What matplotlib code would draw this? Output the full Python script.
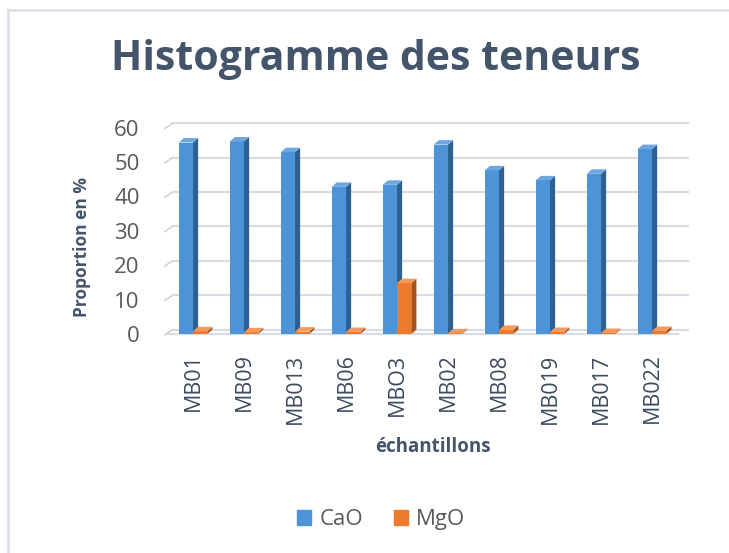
import numpy as np
import matplotlib
matplotlib.use("Agg")
import matplotlib.pyplot as plt
from matplotlib.patches import Polygon, Patch
from matplotlib.lines import Line2D

plt.rcParams['font.family'] = ['Open Sans', 'DejaVu Sans']

# données
echantillons = ['MB01', 'MB09', 'MB013', 'MB06', 'MBO3', 'MB02', 'MB08', 'MB019', 'MB017', 'MB022']
cao = [55.7, 56.0, 52.9, 42.8, 43.4, 55.1, 47.6, 44.7, 46.6, 53.8]
mgo = [0.8, 0.5, 0.7, 0.6, 14.8, 0.2, 1.2, 0.6, 0.3, 0.9]
yticks = [0, 10, 20, 30, 40, 50, 60]

fig = plt.figure(figsize=(7.29, 5.53), dpi=100)
ax = fig.add_axes([0.2298, 0.396, 0.6996, 0.373])

x = np.arange(len(echantillons))
w = 0.28
dx, dy = 0.1, 1.3  # profondeur 3D

# grille (mur du fond) + petites lignes obliques à gauche
for v in yticks:
    ax.plot([-0.5 + dx, 9.5 + 0.2], [v + dy, v + dy], color='#d9dce3', lw=1.6, zorder=0, clip_on=False)
    ax.plot([-0.5 - 0.05, -0.5 + dx], [v - 0.2, v + dy], color='#d0d3da', lw=1.2, zorder=0, clip_on=False)
ax.plot([-0.5, 9.5], [0, 0], color='#d9dce3', lw=1.6, zorder=0, clip_on=False)


def barres_3d(pos, vals, face, cote, dessus):
    ax.bar(pos, vals, w, color=face, zorder=3)
    for xi, v in zip(pos, vals):
        x0, x1 = xi - w / 2, xi + w / 2
        ax.add_patch(Polygon([(x1, 0), (x1 + dx, dy), (x1 + dx, v + dy), (x1, v)],
                             closed=True, fc=cote, ec='none', zorder=3))
        ax.add_patch(Polygon([(x0, v), (x0 + dx, v + dy), (x1 + dx, v + dy), (x1, v)],
                             closed=True, fc=dessus, ec='none', zorder=3))


barres_3d(x - w / 2, cao, '#4d93d8', '#2d5f91', '#6ea6de')
barres_3d(x + w / 2, mgo, '#ee7a2c', '#a9501a', '#f59a5e')

ax.set_xlim(-0.5, 9.5)
ax.set_ylim(0, 60)
ax.set_yticks(yticks)
ax.set_yticklabels([str(v) for v in yticks], fontsize=16, color='#595959')
ax.set_xticks(x)
ax.set_xticklabels(echantillons, rotation=90, fontsize=15.5, color='#3b4a5e')
ax.tick_params(axis='y', length=0, pad=20)
ax.tick_params(axis='x', length=0, pad=14)
for s in ax.spines.values():
    s.set_visible(False)

ax.set_ylabel('Proportion en %', fontsize=12.5, fontweight='bold', color='#44546a')
ax.yaxis.set_label_coords(-0.15, 0.42)
ax.set_xlabel('échantillons', fontsize=13.5, fontweight='bold', color='#44546a')
ax.xaxis.set_label_coords(0.52, -0.5)

fig.text(0.515, 0.893, 'Histogramme des teneurs', ha='center', va='center',
         fontsize=29.5, fontweight='bold', color='#44546a')

handles = [Patch(color='#4d93d8', label='CaO'), Patch(color='#ee7a2c', label='MgO')]
fig.legend(handles=handles, loc='center', bbox_to_anchor=(0.523, 0.06), ncol=2, frameon=False,
           fontsize=16, handlelength=0.65, handleheight=0.65, columnspacing=1.4, handletextpad=0.35,
           labelcolor='#595959')

# cadre (haut et gauche seulement visibles)
fig.add_artist(Line2D([8 / 729, 1], [1 - 10 / 553] * 2, transform=fig.transFigure, color='#dde1ea', lw=2))
fig.add_artist(Line2D([8 / 729] * 2, [0, 1 - 10 / 553], transform=fig.transFigure, color='#dde1ea', lw=2))

fig.savefig('out.png', dpi=100)
